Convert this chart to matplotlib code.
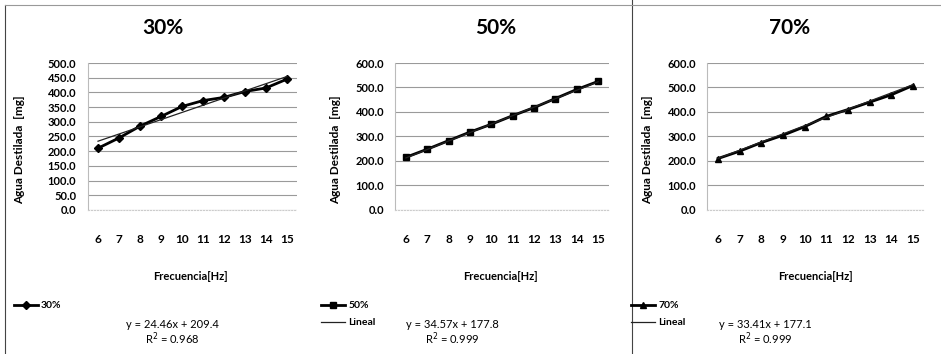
import numpy as np
import matplotlib
matplotlib.use("Agg")
import matplotlib.pyplot as plt
from matplotlib.lines import Line2D

plt.rcParams['font.family'] = ['Lato', 'DejaVu Sans']

freq = [6, 7, 8, 9, 10, 11, 12, 13, 14, 15]
titles = ['30%', '50%', '70%']
y30 = [210, 245, 285, 318, 352, 372, 383, 403, 415, 445]
y50 = [215, 248, 283, 318, 350, 385, 418, 455, 492, 525]
y70 = [210, 240, 275, 305, 340, 382, 410, 440, 470, 508]
slopes = [24.46, 34.57, 33.41]
intercepts = [209.4, 177.8, 177.1]
r2 = [0.968, 0.999, 0.999]
ymax = [500, 600, 600]
ystep = [50, 100, 100]
markers = ['D', 's', '^']
series = [y30, y50, y70]

fig = plt.figure(figsize=(9.41, 3.54), dpi=100)

# axes boxes [left, bottom, width, height] in figure fractions
boxes = [[0.093, 0.407, 0.223, 0.415],
         [0.420, 0.407, 0.227, 0.415],
         [0.7516, 0.407, 0.230, 0.415]]
title_x = [163, 496, 790]
xlab_x = [190, 500, 815]
ylab_x = [20, 336, 648]
leg_x = [14, 321, 631]
eq_x = [172, 452, 765]

for i in range(3):
    ax = fig.add_axes(boxes[i])
    idx = np.arange(1, len(freq) + 1)
    ax.plot(idx, series[i], color='black', lw=2, marker=markers[i],
            ms=5 if i != 0 else 4, zorder=3)
    fit = slopes[i] * idx + intercepts[i]
    ax.plot(idx, fit, color='#222222', lw=0.9, zorder=4)
    ax.set_xlim(0.5, len(freq) + 0.5)
    ax.set_ylim(0, ymax[i])
    ax.set_xticks(idx)
    ax.set_xticklabels([str(f) for f in freq], fontsize=8.5, fontweight='bold')
    yt = np.arange(0, ymax[i] + 1, ystep[i])
    ax.set_yticks(yt)
    ax.set_yticklabels(['%.1f' % v for v in yt], fontsize=8, fontweight='bold')
    ax.tick_params(length=0, pad=8)
    ax.tick_params(axis='x', pad=17)
    ax.yaxis.grid(True, color='#9a9a9a', lw=0.8)
    ax.set_axisbelow(True)
    for s in ['top', 'right']:
        ax.spines[s].set_visible(False)
    ax.spines['left'].set_color('#bbbbbb')
    ax.spines['bottom'].set_color('#cccccc')
    ax.spines['bottom'].set_linestyle(':')

    fig.text(title_x[i] / 941, 1 - 28 / 354, titles[i], ha='center', va='center',
             fontsize=15, fontweight='bold')
    fig.text(xlab_x[i] / 941, 1 - 277 / 354, 'Frecuencia[Hz]', ha='center',
             va='center', fontsize=8, fontweight='bold')
    fig.text(ylab_x[i] / 941, 1 - 150 / 354, 'Agua Destilada  [mg]', ha='center',
             va='center', rotation=90, fontsize=8.5, fontweight='bold')

    handles = [Line2D([], [], color='black', lw=2, marker=markers[i], ms=4)]
    labels = [titles[i]]
    if i > 0:
        handles.append(Line2D([], [], color='#222222', lw=0.9))
        labels.append('Lineal')
    fig.legend(handles, labels, loc='upper left',
               bbox_to_anchor=(leg_x[i] / 941, 1 - 301 / 354), frameon=False,
               prop={'size': 7.5, 'weight': 'bold'}, handlelength=2.3,
               handletextpad=0.3, labelspacing=0.75, borderpad=0,
               borderaxespad=0)
    fig.text(eq_x[i] / 941, 1 - 325 / 354,
             'y = %.2fx + %.1f' % (slopes[i], intercepts[i]),
             ha='center', va='center', fontsize=8)
    fig.text(eq_x[i] / 941, 1 - 339 / 354, 'R$^2$ = %.3f' % r2[i],
             ha='center', va='center', fontsize=8)

# panel borders
fig.add_artist(Line2D([5 / 941, 5 / 941], [0, 1 - 5 / 354], color='#444444', lw=0.8))
fig.add_artist(Line2D([632 / 941, 632 / 941], [0, 1], color='#444444', lw=0.8))
fig.add_artist(Line2D([5 / 941, 1], [1 - 5 / 354, 1 - 5 / 354], color='#999999', lw=0.8))

fig.savefig('out.png', dpi=100)
